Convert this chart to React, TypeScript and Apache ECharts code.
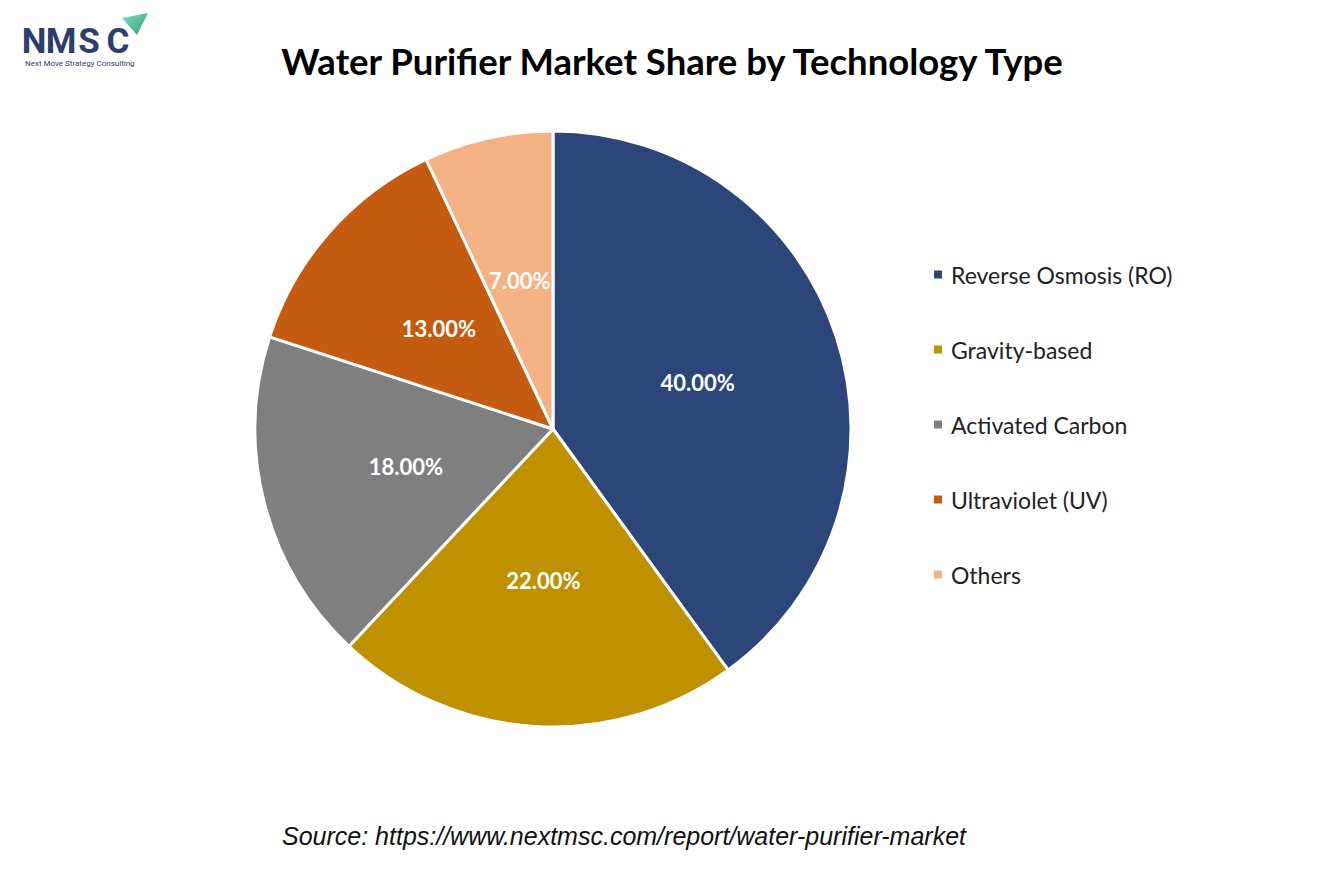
import React, { useEffect, useRef } from "react";
import * as echarts from "echarts";

const categories = ["Reverse Osmosis (RO)", "Gravity-based", "Activated Carbon", "Ultraviolet (UV)", "Others"];
const shares = [40, 22, 18, 13, 7];
const colors = ["#2c4679", "#bf9000", "#7f7f7f", "#c55a11", "#f4b183"];

const titleText = "Water Purifier Market Share by Technology Type";
const sourceText = "Source: https://www.nextmsc.com/report/water-purifier-market";

export default function App() {
  const ref = useRef<HTMLDivElement>(null);
  useEffect(() => {
    document.body.style.margin = "0";
    const chart = echarts.init(ref.current!, null, { renderer: "svg" });
    const logoColor = "#2b3f6e";
    const letters = [
      { t: "N", x: 34 },
      { t: "M", x: 61 },
      { t: "S", x: 89 },
      { t: "C", x: 118 },
    ];
    chart.setOption({
      animation: false,
      backgroundColor: "#ffffff",
      title: {
        text: titleText,
        left: 667,
        textAlign: "center",
        top: 34,
        textStyle: { fontFamily: "Lato", fontWeight: "bold", fontSize: 36.5, color: "#000", lineHeight: 44 },
      },
      legend: {
        orient: "vertical",
        left: 927,
        top: 258,
        itemWidth: 10,
        itemHeight: 10,
        itemGap: 52,
        icon: "rect",
        data: categories,
        textStyle: { fontFamily: "Lato", fontSize: 23, color: "#222", lineHeight: 21, padding: [0, 0, 0, 3] },
      },
      graphic: [
        ...letters.map((l) => ({
          type: "text",
          x: l.x,
          y: 41,
          style: {
            text: l.t,
            font: "bold 35px Roboto",
            lineHeight: 26,
            fill: logoColor,
            textAlign: "center",
            textVerticalAlign: "middle",
          },
        })),
        {
          type: "polygon",
          shape: { points: [[122, 18], [148, 13], [137, 35]] },
          style: {
            fill: new echarts.graphic.LinearGradient(0, 0, 1, 1, [
              { offset: 0, color: "#7fe0bd" },
              { offset: 1, color: "#3a9a7c" },
            ]),
          },
        },
        {
          type: "text",
          x: 25,
          y: 63,
          style: {
            text: "Next Move Strategy Consulting",
            font: "8px Roboto",
            lineHeight: 9,
            fill: logoColor,
            textVerticalAlign: "middle",
          },
        },
        {
          type: "text",
          x: 624,
          y: 836,
          style: {
            text: sourceText,
            font: "italic 25px 'Liberation Sans'",
            fill: "#111",
            textAlign: "center",
            textVerticalAlign: "middle",
          },
        },
      ],
      series: [
        {
          type: "pie",
          center: [553, 429],
          radius: 298,
          startAngle: 90,
          clockwise: true,
          avoidLabelOverlap: false,
          itemStyle: { borderColor: "#ffffff", borderWidth: 3 },
          label: {
            show: true,
            position: "inside",
            formatter: (p: any) => p.value.toFixed(2) + "%",
            color: "#ffffff",
            fontFamily: "Lato",
            fontWeight: "bold",
            fontSize: 22,
          },
          labelLine: { show: false },
          emphasis: { disabled: true },
          data: categories.map((c, i) => ({ name: c, value: shares[i], itemStyle: { color: colors[i] } })),
        },
      ],
    });
    return () => chart.dispose();
  }, []);
  return <div ref={ref} style={{ width: 1334, height: 889 }} />;
}
